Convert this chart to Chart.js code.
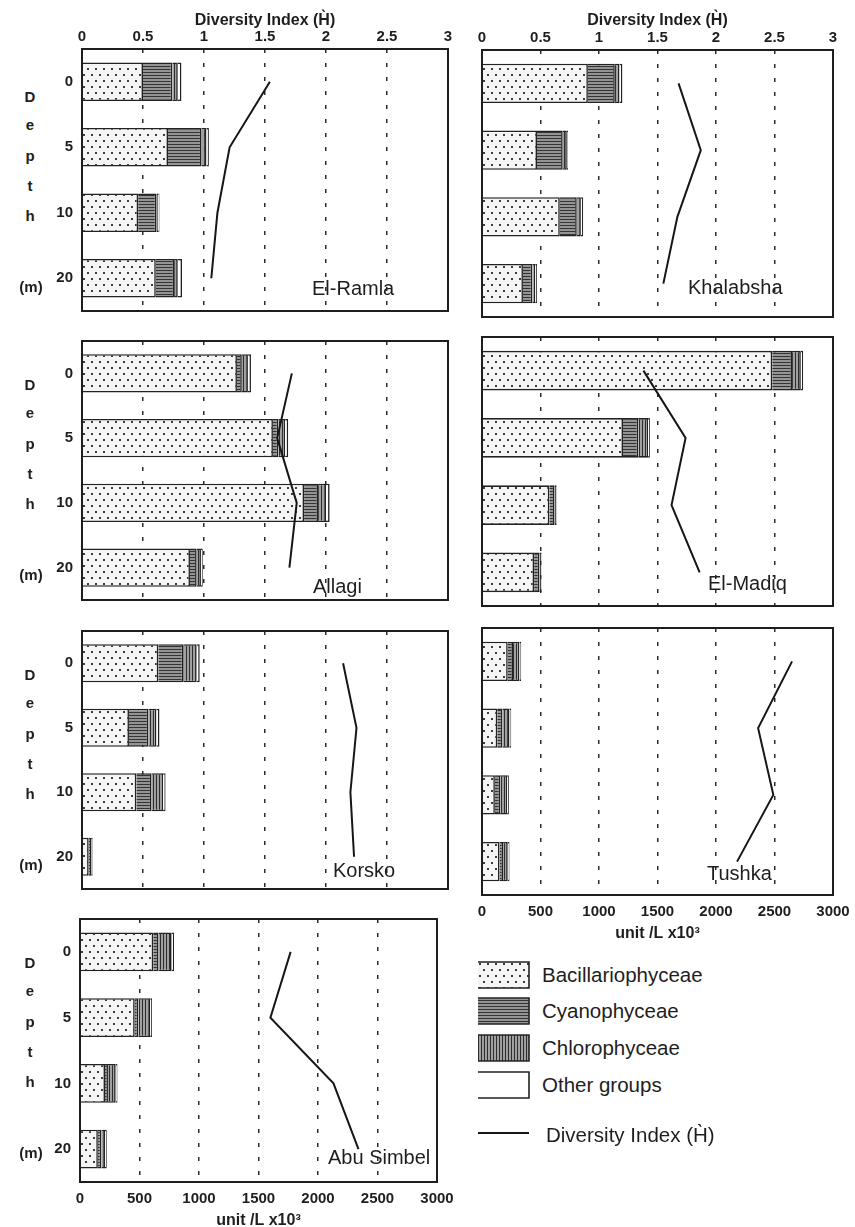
<!DOCTYPE html>
<html>
<head>
<meta charset="utf-8">
<script src="https://cdn.jsdelivr.net/npm/chart.js@4.4.1/dist/chart.umd.min.js"></script>
<style>
  html, body { margin: 0; padding: 0; background: #fff; }
  body { position: relative; width: 855px; height: 1227px; overflow: hidden;
         font-family: "Liberation Sans", Arial, sans-serif; color: #1e1e1e; }
  canvas.panel { position: absolute; }
  .site { position: absolute; font-size: 20px; line-height: 1; transform: translateY(-50%); white-space: nowrap; }
  .depth { position: absolute; font-weight: bold; font-size: 15px; line-height: 1; transform: translate(-50%, -50%); }
  .leg-swatch { position: absolute; }
  .leg-text { position: absolute; font-size: 20.5px; line-height: 1; transform: translateY(-50%); white-space: nowrap; }
</style>
</head>
<body>
<script>
// ---- data: phytoplankton standing crop (unit/L x10^3) and diversity index per depth ----
const depths = ['0', '5', '10', '20'];
const stations = ['El-Ramla', 'Khalabsha', 'Allagi', 'El-Madiq', 'Korsko', 'Tushka', 'Abu Simbel'];

const bacillariophyceae = [
  [500, 705, 460, 605],
  [905, 470, 665, 350],
  [1270, 1565, 1820, 885],
  [2480, 1205, 575, 445],
  [625, 385, 445, 55],
  [220, 130, 110, 150],
  [615, 460, 210, 150]
];
const cyanophyceae = [
  [240, 275, 150, 150],
  [230, 220, 145, 80],
  [40, 45, 115, 55],
  [170, 130, 45, 45],
  [205, 160, 125, 20],
  [45, 45, 45, 30],
  [45, 30, 25, 30]
];
const chlorophyceae = [
  [45, 40, 15, 30],
  [40, 35, 35, 25],
  [50, 55, 65, 35],
  [75, 85, 15, 15],
  [110, 65, 95, 10],
  [55, 60, 60, 40],
  [110, 100, 65, 30]
];
const otherGroups = [
  [30, 20, 10, 35],
  [25, 10, 20, 15],
  [25, 25, 30, 15],
  [20, 15, 5, 5],
  [25, 25, 20, 5],
  [15, 15, 15, 15],
  [20, 15, 15, 15]
];
const diversityIndex = [
  [1.54, 1.21, 1.11, 1.06],
  [1.68, 1.87, 1.67, 1.55],
  [1.72, 1.60, 1.76, 1.70],
  [1.38, 1.74, 1.62, 1.86],
  [2.14, 2.25, 2.20, 2.23],
  [2.65, 2.36, 2.49, 2.18],
  [1.77, 1.60, 2.13, 2.34]
];

const unitTicks = [0, 500, 1000, 1500, 2000, 2500, 3000];
const diversityTicks = [0, 0.5, 1, 1.5, 2, 2.5, 3];
const groupNames = ['Bacillariophyceae', 'Cyanophyceae', 'Chlorophyceae', 'Other groups'];
const diversityTitle = 'Diversity Index (H\u0300)';
const unitTitle = 'unit /L x10\u00B3';

// ---- page layout (plot frame of each panel) ----
const frames = [
  { l: 82,  t: 49,  r: 448, b: 317,  depthLabels: true,  top: true,  bottom: false, site: [312, 288] },
  { l: 482, t: 50,  r: 833, b: 317,  depthLabels: false, top: true,  bottom: false, site: [688, 287] },
  { l: 82,  t: 337, r: 448, b: 606,  depthLabels: true,  top: false, bottom: false, site: [313, 586] },
  { l: 482, t: 337, r: 833, b: 606,  depthLabels: false, top: false, bottom: false, site: [708, 583] },
  { l: 82,  t: 627, r: 448, b: 895,  depthLabels: true,  top: false, bottom: false, site: [333, 870] },
  { l: 482, t: 628, r: 833, b: 895,  depthLabels: false, top: false, bottom: true,  site: [707, 873] },
  { l: 80,  t: 915, r: 437, b: 1182, depthLabels: true,  top: false, bottom: true,  site: [328, 1157] }
];

const INK = '#1e1e1e';
const tickFont = { family: '"Liberation Sans", Arial, sans-serif', size: 15, weight: 'bold' };
const titleFont = { family: '"Liberation Sans", Arial, sans-serif', size: 16, weight: 'bold' };

// ---- fill patterns for the algal groups ----
function makePatterns(ctx) {
  function tile(w, h, paint) {
    const c = document.createElement('canvas');
    c.width = w; c.height = h;
    paint(c.getContext('2d'));
    return ctx.createPattern(c, 'repeat');
  }
  return {
    dots: tile(8, 12, g => {
      g.fillStyle = '#f5f5f5'; g.fillRect(0, 0, 8, 12);
      g.fillStyle = '#3c3c3c';
      g.fillRect(1, 2, 2, 2);
      g.fillRect(5, 8, 2, 2);
    }),
    hlines: tile(4, 3, g => {
      g.fillStyle = '#949494'; g.fillRect(0, 0, 4, 3);
      g.fillStyle = '#343434'; g.fillRect(0, 0, 4, 1);
    }),
    vlines: tile(3, 4, g => {
      g.fillStyle = '#a0a0a0'; g.fillRect(0, 0, 3, 4);
      g.fillStyle = '#2e2e2e'; g.fillRect(0, 0, 1, 4);
    }),
    plain: '#ffffff'
  };
}

// draws the closed frame round the plot area
const framePlugin = {
  id: 'panelFrame',
  afterDraw(chart) {
    const a = chart.chartArea;
    const c = chart.ctx;
    c.save();
    c.strokeStyle = INK;
    c.lineWidth = 2;
    c.setLineDash([]);
    c.strokeRect(a.left, a.top, a.right - a.left, a.bottom - a.top);
    c.restore();
  }
};

function addText(cls, text, x, y) {
  const d = document.createElement('div');
  d.className = cls;
  d.textContent = text;
  d.style.left = x + 'px';
  d.style.top = y + 'px';
  document.body.appendChild(d);
  return d;
}

frames.forEach((f, i) => {
  const ML = f.depthLabels ? 40 : 20;
  const MT = f.top ? f.t : 14;
  const MB = f.bottom ? 50 : 12;
  const MR = 25;

  const canvas = document.createElement('canvas');
  canvas.className = 'panel';
  const w = (f.r - f.l) + ML + MR;
  const h = (f.b - f.t) + MT + MB;
  canvas.width = w; canvas.height = h;
  canvas.style.width = w + 'px'; canvas.style.height = h + 'px';
  canvas.style.left = (f.l - ML) + 'px';
  canvas.style.top = (f.t - MT) + 'px';
  document.body.appendChild(canvas);
  const ctx = canvas.getContext('2d');
  const pat = makePatterns(ctx);

  const fills = [pat.dots, pat.hlines, pat.vlines, pat.plain];
  const series = [bacillariophyceae[i], cyanophyceae[i], chlorophyceae[i], otherGroups[i]];

  const datasets = [{
    type: 'line',
    label: diversityTitle,
    data: diversityIndex[i],
    indexAxis: 'y',
    xAxisID: 'x2',
    yAxisID: 'y',
    borderColor: '#161616',
    borderWidth: 2,
    pointRadius: 0,
    tension: 0,
    fill: false,
    order: 0
  }];
  series.forEach((vals, k) => {
    datasets.push({
      type: 'bar',
      label: groupNames[k],
      data: vals,
      xAxisID: 'x',
      yAxisID: 'y',
      backgroundColor: fills[k],
      borderColor: '#222',
      borderWidth: 1.6,
      borderSkipped: 'start',
      barPercentage: 0.59,
      categoryPercentage: 1,
      order: 1
    });
  });

  new Chart(ctx, {
    type: 'bar',
    data: { labels: depths, datasets },
    plugins: [framePlugin],
    options: {
      indexAxis: 'y',
      responsive: false,
      animation: false,
      devicePixelRatio: 1,
      layout: { padding: { left: 0, top: 0, right: MR, bottom: 0 } },
      plugins: { legend: { display: false }, tooltip: { enabled: false } },
      scales: {
        x: {
          type: 'linear', position: 'bottom', stacked: true,
          min: 0, max: 3000,
          afterBuildTicks: s => { s.ticks = unitTicks.map(v => ({ value: v })); },
          afterFit: s => { s.height = MB; },
          ticks: { display: f.bottom, font: tickFont, color: INK, padding: 8, maxRotation: 0,
                   callback: v => String(v) },
          grid: { display: true, drawTicks: false, color: '#2a2a2a', lineWidth: 1.5 },
          border: { display: false, dash: [4, 10] },
          title: { display: f.bottom, text: unitTitle, font: titleFont, color: INK,
                   padding: { top: 0, bottom: 2 } }
        },
        x2: {
          type: 'linear', position: 'top', axis: 'x',
          min: 0, max: 3,
          afterBuildTicks: s => { s.ticks = diversityTicks.map(v => ({ value: v })); },
          afterFit: s => { s.height = MT; },
          ticks: { display: f.top, font: tickFont, color: INK, padding: 3, maxRotation: 0,
                   callback: v => String(v) },
          grid: { display: false, drawTicks: false },
          border: { display: false },
          title: { display: f.top, text: diversityTitle, font: titleFont, color: INK,
                   padding: { top: 11, bottom: 0 } }
        },
        y: {
          type: 'category', position: 'left', stacked: true, offset: true,
          afterFit: s => { s.width = ML; },
          ticks: { display: f.depthLabels, font: tickFont, color: INK, padding: 9 },
          grid: { display: false, drawTicks: false },
          border: { display: false }
        }
      }
    }
  });

  // station name inside the panel
  addText('site', stations[i], f.site[0], f.site[1]);

  // vertical "Depth (m)" caption beside the left-hand panels
  if (f.depthLabels) {
    const letters = ['D', 'e', 'p', 't', 'h'];
    const offs = [47, 75, 106, 136, 166];
    letters.forEach((ch, j) => addText('depth', ch, 30, f.t + offs[j]));
    addText('depth', '(m)', 31, f.t + 237);
  }
});

// ---- legend ----
(function legend() {
  const x0 = 478, sw = 51, sh = 26;
  const tops = [962, 998, 1035, 1072];
  tops.forEach((t, k) => {
    const c = document.createElement('canvas');
    c.className = 'leg-swatch';
    c.width = sw + 2; c.height = sh + 2;
    c.style.left = x0 + 'px';
    c.style.top = (t - 1) + 'px';
    document.body.appendChild(c);
    const g = c.getContext('2d');
    const p = makePatterns(g);
    g.fillStyle = [p.dots, p.hlines, p.vlines, p.plain][k];
    g.fillRect(0, 1, sw, sh);
    g.strokeStyle = '#222';
    g.lineWidth = 1.6;
    g.beginPath();
    g.moveTo(0, 1); g.lineTo(sw, 1); g.lineTo(sw, sh + 1); g.lineTo(0, sh + 1);
    g.stroke();
    addText('leg-text', groupNames[k], 542, t + sh / 2);
  });
  const lc = document.createElement('canvas');
  lc.className = 'leg-swatch';
  lc.width = sw; lc.height = 6;
  lc.style.left = x0 + 'px';
  lc.style.top = '1130px';
  document.body.appendChild(lc);
  const lg = lc.getContext('2d');
  lg.strokeStyle = '#161616';
  lg.lineWidth = 2;
  lg.beginPath(); lg.moveTo(0, 3); lg.lineTo(sw, 3); lg.stroke();
  addText('leg-text', diversityTitle, 546, 1135);
})();
</script>
</body>
</html>
